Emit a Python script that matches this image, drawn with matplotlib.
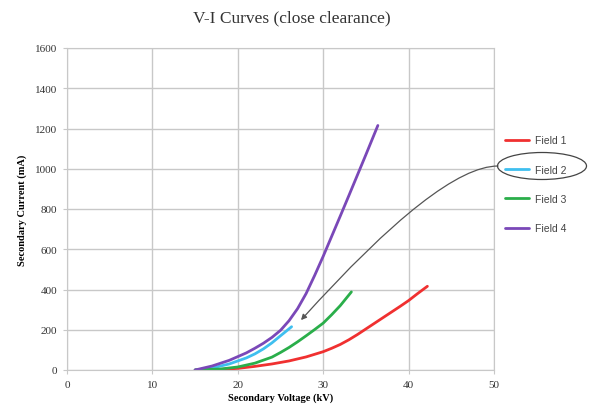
import matplotlib
matplotlib.use("Agg")
import matplotlib.pyplot as plt
from matplotlib.patches import Ellipse

# Field 1
v1 = [15, 18, 20, 22, 24, 26, 28, 30, 31, 32, 33, 34, 35, 36, 37, 38, 39, 40, 41, 42.2]
i1 = [0, 3, 8, 18, 30, 45, 65, 91, 108, 127, 150, 176, 204, 232, 260, 288, 316, 345, 378, 416]
# Field 2
v2 = [15, 17, 19, 21, 22, 23, 24, 25, 26.3]
i2 = [0, 10, 30, 60, 80, 105, 135, 170, 215]
# Field 3
v3 = [15, 18, 20, 22, 24, 25, 26, 27, 28, 29, 30, 31, 32, 33.3]
i3 = [0, 5, 15, 34, 64, 87, 112, 140, 170, 201, 233, 275, 320, 388]
# Field 4
v4 = [15, 17, 19, 21, 22, 23, 24, 25, 26, 27, 28, 29, 30, 31, 32, 33, 34, 35, 36.4]
i4 = [0, 20, 48, 85, 108, 133, 162, 197, 245, 305, 380, 470, 565, 665, 765, 866, 968, 1070, 1215]

labels = ["Field 1", "Field 2", "Field 3", "Field 4"]
colors = ["#f03030", "#3fbfef", "#2aae4a", "#7a48b8"]

xticks = [0, 10, 20, 30, 40, 50]
yticks = [0, 200, 400, 600, 800, 1000, 1200, 1400, 1600]

serif = "Liberation Serif"

fig = plt.figure(figsize=(6.02, 4.14), dpi=100)
ax = fig.add_axes([67/602, 1-371/414, (494-67)/602, (371-49)/414])

series = [(v1, i1), (v2, i2), (v3, i3), (v4, i4)]
for (v, i), lab, c in zip(series, labels, colors):
    ax.plot(v, i, color=c, lw=2.0, label=lab, solid_capstyle="round",
            solid_joinstyle="round")

ax.set_xlim(0, 50)
ax.set_ylim(0, 1600)
ax.set_xticks(xticks)
ax.set_yticks(yticks)
ax.grid(True, color="#c8c8c8", lw=1.0)
ax.set_axisbelow(True)
for s in ax.spines.values():
    s.set_color("#c8c8c8")
ax.tick_params(length=3, color="#c8c8c8", labelsize=8, pad=4)
for t in ax.get_xticklabels() + ax.get_yticklabels():
    t.set_fontfamily(serif)
    t.set_color("#333333")

ax.set_xlabel("Secondary Voltage (kV)", fontfamily=serif, fontweight="bold",
              fontsize=7.5, labelpad=3)
ax.set_ylabel("Secondary Current (mA)", fontfamily=serif, fontweight="bold",
              fontsize=7.5, labelpad=6)

fig.text(292/602, 1-18/414, "V-I Curves (close clearance)", fontfamily=serif,
         fontsize=12.5, color="#333333", ha="center", va="center")

leg = ax.legend(loc="upper left", bbox_to_anchor=(496/602, 1-127/414),
                bbox_transform=fig.transFigure, frameon=False,
                prop={"family": "Liberation Sans", "size": 7.5},
                handlelength=2.3, handletextpad=0.5, labelspacing=1.85)
for t in leg.get_texts():
    t.set_color("#444444")

# ellipse round Field 2 and the curved arrow
fig.patches.append(Ellipse((542/602, 1-167/414), 89/602, 27/414,
                           transform=fig.transFigure, fill=False,
                           edgecolor="#444444", lw=0.9))
ax.annotate("", xy=(27.4, 248), xycoords="data",
            xytext=(498/602, 1-167/414), textcoords="figure fraction",
            arrowprops=dict(arrowstyle="-|>", color="#555555", lw=0.9,
                            connectionstyle="angle3,angleA=0,angleB=48",
                            shrinkA=0, shrinkB=0, mutation_scale=8))

fig.savefig("out.png", dpi=100)
